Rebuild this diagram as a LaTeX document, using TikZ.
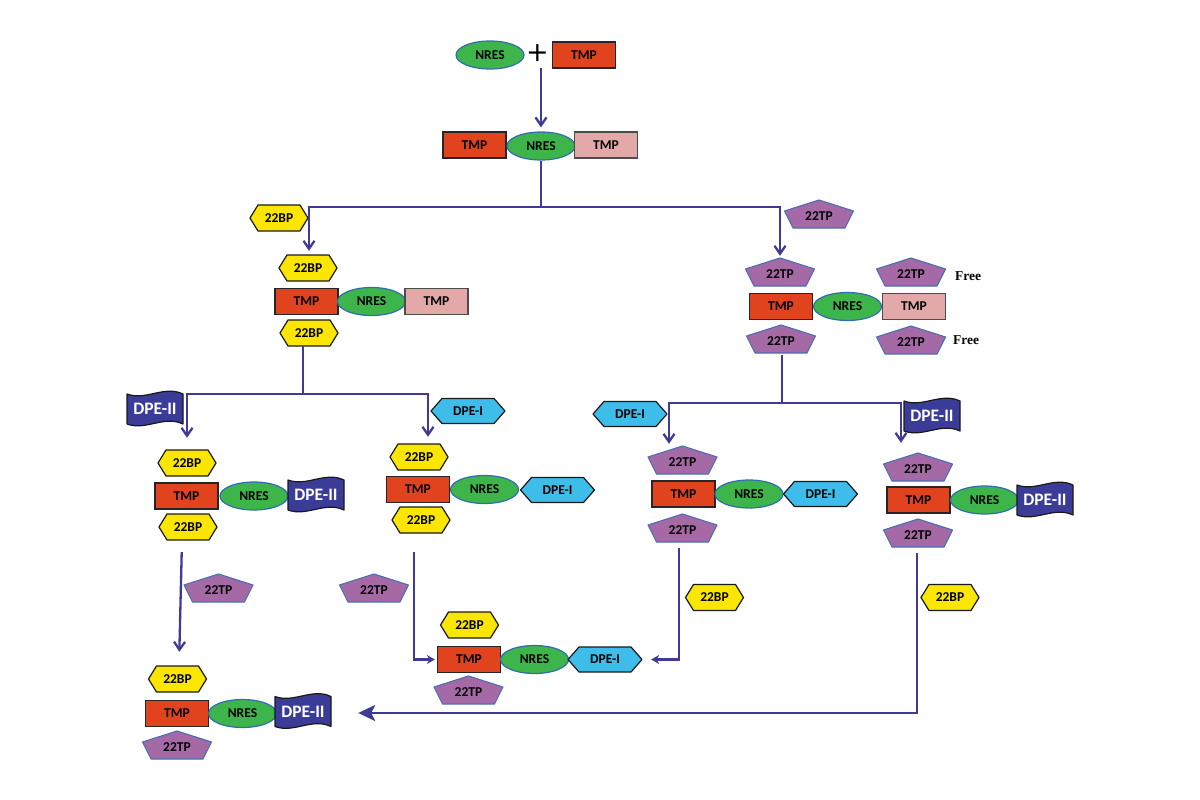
\documentclass[tikz,border=0pt]{standalone}
\usepackage{fontspec}
\setmainfont{Carlito}
\newfontfamily\freefont{Liberation Serif}
\newfontfamily\plusfont{DejaVu Sans}
\usetikzlibrary{arrows.meta,shapes.geometric,calc}

\definecolor{tmpred}{HTML}{E2431F}
\definecolor{tmppinkc}{HTML}{E3A9A8}
\definecolor{nresgreen}{HTML}{3DB54A}
\definecolor{nresedge}{HTML}{2F6DB3}
\definecolor{bpyellow}{HTML}{FAE600}
\definecolor{tppurple}{HTML}{A56AA6}
\definecolor{tpedge}{HTML}{4A6EB5}
\definecolor{dpeicyan}{HTML}{3FBDEA}
\definecolor{dpeiiblue}{HTML}{3A3C97}
\definecolor{arrowc}{HTML}{3F3A96}

\tikzset{
  lbl/.style={font=\bfseries\fontsize{13.5}{15}\selectfont, inner sep=0pt, text=black},
  tmpbox/.style={lbl, rectangle, draw=black!85, fill=tmpred, line width=1.3pt, minimum width=63pt, minimum height=26pt},
  tmppale/.style={tmpbox, fill=tmppinkc, draw=black!70},
  nres/.style={lbl, ellipse, draw=nresedge, fill=nresgreen, line width=1.2pt, minimum width=68pt, minimum height=28pt},
  bpshape/.style={draw=black!90, fill=bpyellow, line width=1.2pt, line join=round},
  tpshape/.style={draw=tpedge, fill=tppurple, line width=1.1pt, line join=round},
  dpeishape/.style={draw=black!90, fill=dpeicyan, line width=1.2pt, line join=round},
  dpeiishape/.style={draw=black!90, fill=dpeiiblue, line width=1.2pt, line join=round},
  conn/.style={draw=arrowc, line width=2.3pt},
  arr/.style={conn, -{Straight Barb[length=8pt,width=11pt]}},
  arrsmall/.style={conn, -{Stealth[length=8pt,width=9pt]}},
  arrbig/.style={conn, -{Stealth[length=17pt,width=16pt,inset=4pt]}},
  freelbl/.style={font=\freefont\bfseries\fontsize{13.5}{15}\selectfont, inner sep=0pt},
}

\newcommand\hexbp[2]{%
  \draw[bpshape,shift={(#2)}] (-29,0) -- (-21,-13) -- (21,-13) -- (29,0) -- (21,13) -- (-21,13) -- cycle;
  \node[lbl,minimum width=58pt,minimum height=26pt] (#1) at (#2) {22BP};}
\newcommand\pentp[2]{%
  \draw[tpshape,shift={(#2)}] (0,-14) -- (34.5,-3) -- (26,14) -- (-26,14) -- (-34.5,-3) -- cycle;
  \node[lbl,minimum width=69pt,minimum height=28pt,yshift=-2pt] (#1) at (#2) {22TP};}
\newcommand\hexdpe[2]{%
  \draw[dpeishape,shift={(#2)}] (-37,0) -- (-26,-12.5) -- (26,-12.5) -- (37,0) -- (26,12.5) -- (-26,12.5) -- cycle;
  \node[lbl,minimum width=74pt,minimum height=25pt] (#1) at (#2) {DPE-I};}
\newcommand\flagdpe[2]{%
  \draw[dpeiishape,shift={(#2)}] (-28,-15) .. controls (-9,-8) and (9,-24) .. (28,-15) -- (28,15) .. controls (9,6) and (-9,22) .. (-28,15) -- cycle;
  \node[lbl,text=white,font=\bfseries\fontsize{17.5}{19}\selectfont,minimum width=56pt,minimum height=34pt] (#1) at (#2) {DPE-II};}

\begin{document}
\begin{tikzpicture}[x=1pt,y=-1pt]
\useasboundingbox (0,0) rectangle (1200,800);

% ---- top reaction
\node[nres] (nres0) at (490,55) {NRES};
\node[font=\plusfont\fontsize{27}{27}\selectfont, inner sep=0pt] (plus) at (537.5,53) {+};
\node[tmpbox] (tmp0) at (584,55) {TMP};

\node[tmpbox] (tmp1) at (474.5,145) {TMP};
\node[nres] (nres1) at (541,146) {NRES};
\node[tmppale] (tmpp1) at (606,145) {TMP};

\draw[arr, shorten <=6pt, shorten >=4pt] (nres1.north |- plus.south) -- (nres1.north);

% side reagents first split
\hexbp{bpS}{279,218}
\pentp{tpS}{819,214}

% ---- left complex
\hexbp{bpL1}{308,268}
\node[tmpbox] (tmpL) at (306.5,301.5) {TMP};
\node[nres] (nresL) at (371.5,301.5) {NRES};
\node[tmppale] (tmppL) at (436.5,301.5) {TMP};
\hexbp{bpL2}{309,333}

% ---- right complex
\pentp{tpR1}{780,272}
\pentp{tpR3}{911,272}
\node[tmpbox] (tmpR) at (781,306.5) {TMP};
\node[nres] (nresR) at (847.5,306.5) {NRES};
\node[tmppale] (tmppR) at (914,306.5) {TMP};
\pentp{tpR2}{781,339}
\pentp{tpR4}{911,340}
\node[freelbl] (free1) at (968,276) {Free};
\node[freelbl] (free2) at (966,340) {Free};

\coordinate (j1) at (541,207);
\draw[conn] (nres1.south) -- (j1);
\draw[arr, shorten >=4pt] (j1) -| ([xshift=1pt]bpL1.north);
\draw[arr, shorten >=4pt] (j1) -| (tpR1.north);

% side reagents second split
\flagdpe{dpeS1}{155,409}
\hexdpe{dpeS2}{468,411}
\hexdpe{dpeS3}{630,414}
\flagdpe{dpeS4}{932,416}

% ---- group A
\hexbp{bpA1}{187,463}
\node[tmpbox] (tmpA) at (186.5,496) {TMP};
\node[nres] (nresA) at (254,496) {NRES};
\flagdpe{dpeA}{316,495}
\hexbp{bpA2}{188,527}

% ---- group B
\hexbp{bpB1}{419,457}
\node[tmpbox] (tmpB) at (418,489.5) {TMP};
\node[nres] (nresB) at (484.5,489.5) {NRES};
\hexdpe{dpeB}{557.5,490}
\hexbp{bpB2}{421,520}

% ---- group C
\pentp{tpC1}{682.5,460}
\node[tmpbox] (tmpC) at (683.5,494) {TMP};
\node[nres] (nresC) at (749,494) {NRES};
\hexdpe{dpeC}{820.5,494}
\pentp{tpC2}{682.5,528}

% ---- group D
\pentp{tpD1}{918,467}
\node[tmpbox] (tmpD) at (918.5,500) {TMP};
\node[nres] (nresD) at (984.5,500) {NRES};
\flagdpe{dpeD}{1045,500}
\pentp{tpD2}{918,533}

\coordinate (j2) at (303,394);
\draw[conn] ([xshift=-6pt]bpL2.south) -- (j2);
\draw[arr, shorten >=12pt] (j2) -| (bpA1.north);
\draw[arr, shorten >=7pt] (j2) -| ([xshift=9pt]bpB1.north);

\coordinate (j3) at (782,403);
\draw[conn] ([xshift=1pt]tpR2.south) -- (j3);
\draw[arr, shorten >=4pt] (j3) -| ([xshift=-13.5pt]tpC1.north);
\draw[arr, shorten >=12pt] (j3) -| ([xshift=-17pt]tpD1.north);

% ---- bottom side reagents
\pentp{tpF0}{218.5,588}
\pentp{tpE0}{374,588}
\hexbp{bpE0}{714.5,597.5}
\hexbp{bpF0}{950,597.5}

% ---- group E
\hexbp{bpE1}{469.5,625}
\node[tmpbox] (tmpE) at (469,659.5) {TMP};
\node[nres] (nresE) at (534.5,659.5) {NRES};
\hexdpe{dpeE}{605,659.5}
\pentp{tpE2}{468.5,690}

% ---- group F
\hexbp{bpF1}{177.5,679}
\node[tmpbox] (tmpF) at (177,713.5) {TMP};
\node[nres] (nresF) at (242.5,713.5) {NRES};
\flagdpe{dpeF}{303,711.5}
\pentp{tpF2}{177,745}

% ---- bottom connectors
\draw[arr, shorten <=12pt, shorten >=14pt] ([xshift=-6pt]bpA2.south) -- ([xshift=1.5pt]bpF1.north);
\draw[arrsmall, shorten <=19pt, shorten >=2pt] ([xshift=-7pt]bpB2.south) |- (tmpE.west);
\draw[arrsmall, shorten <=4pt, shorten >=9pt] ([xshift=-3.5pt]tpC2.south) |- (dpeE.east);
\draw[arrbig, shorten <=4pt, shorten >=27pt] ([xshift=-1pt]tpD2.south) |- ([yshift=-1.5pt]dpeF.east);

\end{tikzpicture}
\end{document}
